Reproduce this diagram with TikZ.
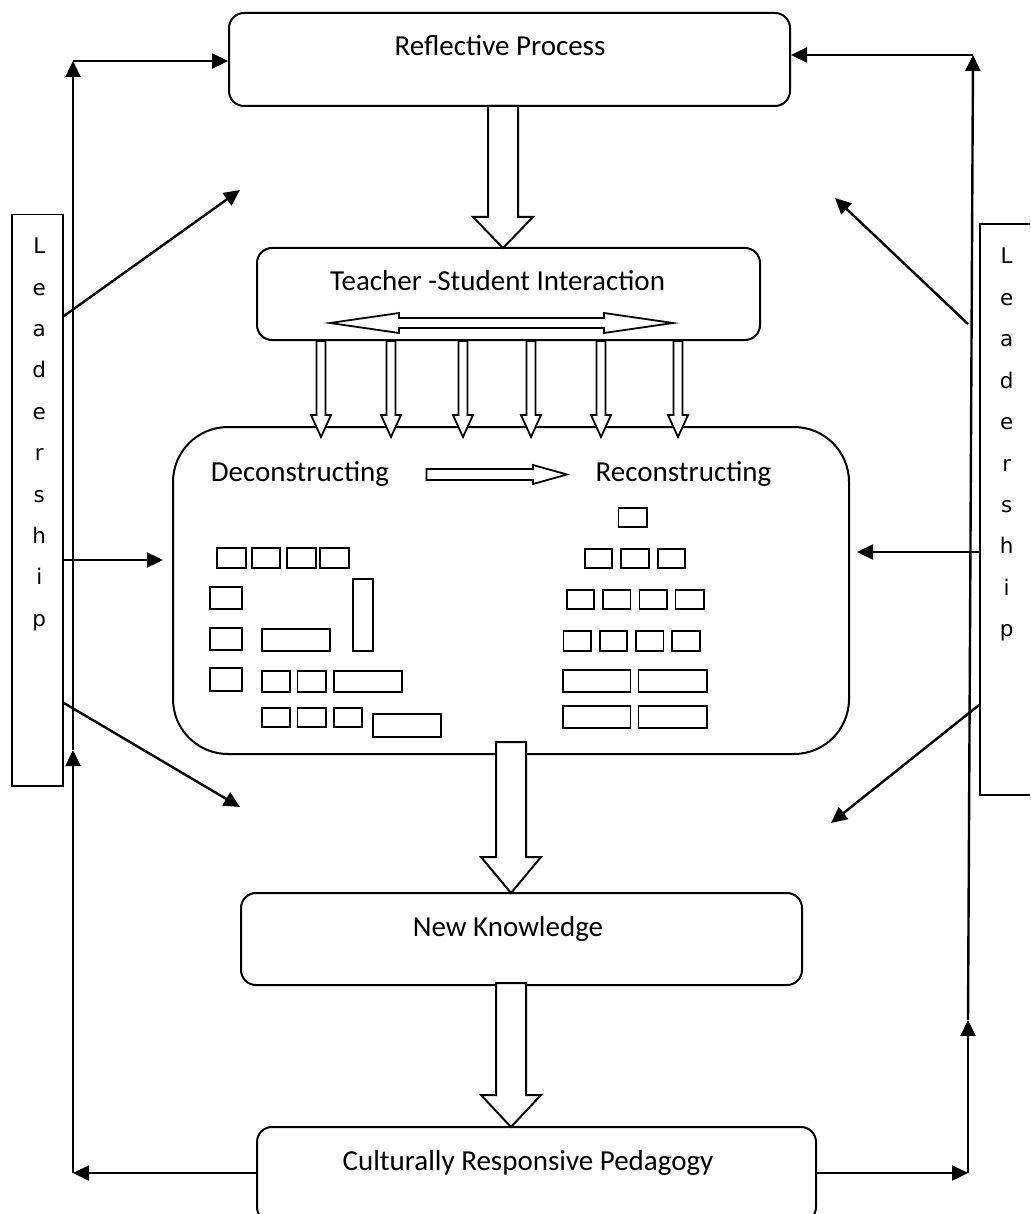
\documentclass[tikz,border=0pt]{standalone}
\usepackage{fontspec}
\setmainfont{Carlito}
\newfontfamily\leadfont{DejaVu Sans}
\usetikzlibrary{arrows.meta}
\begin{document}
\begin{tikzpicture}[x=1pt,y=-1pt,
  box/.style={draw, line width=2pt, rounded corners=15pt, inner sep=0pt},
  lbl/.style={font=\fontsize{29}{34}\selectfont, inner sep=0pt, anchor=base},
  arr/.style={line width=2.4pt, -{Triangle[length=16pt,width=15pt]}},
  blk/.style={draw, line width=2pt, fill=white, line join=miter},
  sq/.style={draw, line width=1.8pt},
  leadbox/.style={draw, line width=1.8pt, inner sep=0pt},
  lead/.style={font=\leadfont\fontsize{21.5}{25}\selectfont, inner sep=0pt, anchor=base}]
\useasboundingbox (0,0) rectangle (1030,1214);
\clip (0,0) rectangle (1030,1214);

% main boxes
\node[box, minimum width=561pt, minimum height=93pt] (rp) at (509.5,59.5) {};
\node[box, minimum width=503pt, minimum height=92pt] (ts) at (508.5,294) {};
\node[box, rounded corners=55pt, minimum width=676pt, minimum height=327pt] (cb) at (511,590.5) {};
\node[box, minimum width=561pt, minimum height=92pt] (nk) at (521.5,939) {};
\node[box, minimum width=559pt, minimum height=95pt] (crp) at (536.5,1174.5) {};

% leadership boxes
\node[leadbox, minimum width=51pt, minimum height=571.5pt] (lb) at (37.5,500.25) {};
\node[leadbox, minimum width=65pt, minimum height=571pt] (rb) at (1012.5,509.5) {};
\foreach \ch [count=\i] in {L,e,a,d,e,r,s,h,i,p} {
  \node[lead] (ll\i) at (39.3,{253.6+(\i-1)*41.4}) {\ch};
  \node[lead] (rl\i) at (1006.7,{264+(\i-1)*41.4}) {\ch};
}

% coordinates of the loop
\coordinate (LB) at (73,1173);
\coordinate (LM) at (73,750);
\coordinate (LT) at (73,61);
\coordinate (RB) at (968,1173);
\coordinate (RM) at (968,1020);
\coordinate (RT) at (973,55);

\draw[arr] (crp.west |- LB) -- (LB);
\draw[arr] (LB) -- (LM);
\draw[arr] (LM) -- (LT);
\draw[arr] (LT) -- (LT -| rp.west);
\draw[arr] (crp.east |- RB) -- (RB);
\draw[arr] (RB) -- (RM);
\draw[arr] (RM) -- (RT);
\draw[arr] (RT) -- (RT -| rp.east);

% leadership arrows
\coordinate (L1s) at (63,316);   \coordinate (L1e) at (240,190);
\coordinate (L2s) at (63,560);   \coordinate (L2e) at (163,560);
\coordinate (L3s) at (63,703);   \coordinate (L3e) at (240,807);
\coordinate (R1s) at (968,324);  \coordinate (R1e) at (835,198);
\coordinate (R2s) at (980,552);  \coordinate (R2e) at (857,552);
\coordinate (R3s) at (980,705);  \coordinate (R3e) at (831,823);
\draw[arr] (lb.east |- L1s) -- (L1e);
\draw[arr] (lb.east |- L2s) -- (L2e);
\draw[arr] (lb.east |- L3s) -- (L3e);
\draw[arr] (R1s) -- (R1e);
\draw[arr] (rb.west |- R2s) -- (R2e);
\draw[arr] (rb.west |- R3s) -- (R3e);

% block arrows
\draw[blk] (488,106) -- (518,106) -- (518,217) -- (533,217) -- (503,248) -- (473,217) -- (488,217) -- cycle;
\draw[blk] (496,742) -- (526,742) -- (526,857) -- (541,857) -- (511,893) -- (481,857) -- (496,857) -- cycle;
\draw[blk] (496,983) -- (526,983) -- (526,1095) -- (541,1095) -- (511,1127) -- (481,1095) -- (496,1095) -- cycle;
\foreach \x in {321,391,463,531,601,678}
  \draw[blk, line width=1.8pt] ({\x-4.5},341) -- ({\x+4.5},341) -- ({\x+4.5},415) -- ({\x+10},415) -- (\x,437) -- ({\x-10},415) -- ({\x-4.5},415) -- cycle;
\draw[blk, line width=1.8pt] (330,323) -- (399,313) -- (399,318) -- (604,318) -- (604,313) -- (673,323) -- (604,333) -- (604,328) -- (399,328) -- (399,333) -- cycle;
\draw[blk, line width=1.8pt] (426.5,469) -- (533,469) -- (533,465) -- (567,474.5) -- (533,484) -- (533,480) -- (426.5,480) -- cycle;

% small rectangles, left group
\foreach \a/\b/\c/\d in {217/548/246/568, 252/548/280/568, 287/548/316/568, 320/548/349/568,
  210/587/242/609, 353/579/373/651,
  210/628/242/650, 262/629/330/651,
  210/668/242/691, 262/671/290/692, 297.5/671/326/692, 334/671/402/692,
  262/708/290/727, 297.5/708/326/727, 334/708/362/727, 373/714/441/737}
  \draw[sq] (\a,\b) rectangle (\c,\d);
% small rectangles, right group
\foreach \a/\b/\c/\d in {618.5/508/647/527,
  585/549/612/568, 621/549/649/568, 658/549/685/568,
  567/590/594/609, 603/590/630.5/609, 639.5/590/667/609, 675.5/590/704/609,
  563.5/631/591/651, 600/631/627/651, 636/631/663.5/651, 672/631/700/651,
  563/670/630.5/692, 638.5/670/707/692,
  563/706/630.5/728, 638.5/706/707/728}
  \draw[sq] (\a,\b) rectangle (\c,\d);

% texts
\node[lbl] (t1) at (500,56) {Reflective Process};
\node[lbl] (t2) at (497.5,290.7) {Teacher -Student Interaction};
\node[lbl] (t3) at (300,481) {Deconstructing};
\node[lbl] (t4) at (683.5,481) {Reconstructing};
\node[lbl] (t5) at (508,936) {New Knowledge};
\node[lbl] (t6) at (528,1170) {Culturally Responsive Pedagogy};
\end{tikzpicture}
\end{document}
